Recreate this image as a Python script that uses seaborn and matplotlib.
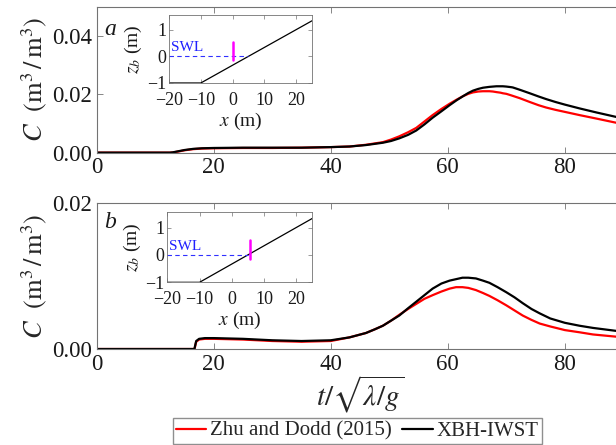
import numpy as np
import pandas as pd
import matplotlib
matplotlib.use("Agg")
import matplotlib.pyplot as plt
import seaborn as sns

# Sediment concentration time series, case a
t_a = [0, 12.5, 13.0, 14.0, 15.0, 16.5, 18.0, 20.0, 25.0, 30.0, 35.0, 40.0,
       43.2, 46.0, 48.9, 50.3, 51.7, 53.2, 54.6, 56.0, 57.4, 58.9, 60.3, 61.5,
       62.6, 63.5, 64.3, 65.2, 66.0, 67.1, 67.7, 68.3, 69.0, 69.4, 70.0, 70.8,
       71.1, 72.3, 74.0, 75.5, 76.8, 78.4, 80.0, 82.5, 85.4, 88.7, 90.0]
zhu_a = [0, 0, 0.00005, 0.0004, 0.0008, 0.0012, 0.0014, 0.0015, 0.0016, 0.0016,
         0.0017, 0.0019, 0.0021, 0.0027, 0.0036, 0.0045, 0.0056, 0.0070, 0.0085,
         0.0107, 0.0129, 0.0150, 0.0168, 0.0182, 0.0194, 0.0202, 0.0207, 0.0210,
         0.0211, 0.0211, 0.0210, 0.0208, 0.0206, 0.0204, 0.0202, 0.0197, 0.0195,
         0.0187, 0.0174, 0.0163, 0.0155, 0.0147, 0.0140, 0.0129, 0.0117, 0.0103,
         0.0099]
xbh_a = [0, 0, 0.0001, 0.0005, 0.0009, 0.0013, 0.0015, 0.0016, 0.0017, 0.0017,
         0.0017, 0.0019, 0.0021, 0.0026, 0.0034, 0.0040, 0.0049, 0.0061, 0.0076,
         0.0097, 0.0120, 0.0142, 0.0163, 0.0180, 0.0194, 0.0205, 0.0213, 0.0219,
         0.0223, 0.0226, 0.0227, 0.0228, 0.0228, 0.0228, 0.0227, 0.0225, 0.0224,
         0.0216, 0.0204, 0.0193, 0.0184, 0.0174, 0.0165, 0.0152, 0.0138, 0.0123,
         0.0118]

# Sediment concentration time series, case b
t_b = [0, 16.7, 16.8, 17.0, 17.5, 18.5, 20.0, 25.0, 30.0, 35.0, 40.0, 43.2,
       44.6, 46.0, 47.5, 48.9, 50.3, 51.7, 53.2, 54.6, 56.0, 57.4, 58.9, 60.3,
       61.4, 62.5, 63.5, 64.8, 66.0, 67.1, 68.5, 70.0, 71.4, 72.8, 74.3, 75.7,
       77.5, 80.0, 82.5, 84.8, 88.7, 90.0]
zhu_b = [0, 0, 0.0003, 0.0010, 0.0013, 0.0014, 0.0014, 0.0013, 0.0011, 0.0010,
         0.0011, 0.0016, 0.0019, 0.0022, 0.0027, 0.0032, 0.0039, 0.0047, 0.0055,
         0.0062, 0.0069, 0.0074, 0.0079, 0.0083, 0.0085, 0.0085, 0.0084, 0.0081,
         0.0077, 0.0073, 0.0067, 0.0060, 0.0053, 0.0046, 0.0040, 0.0035, 0.0031,
         0.0026, 0.0023, 0.0020, 0.0017, 0.0016]
xbh_b = [0, 0, 0.0004, 0.0011, 0.0014, 0.0015, 0.0015, 0.0014, 0.0012, 0.0011,
         0.0012, 0.0016, 0.0019, 0.0022, 0.0027, 0.0032, 0.0039, 0.0046, 0.0056,
         0.0065, 0.0074, 0.0083, 0.0090, 0.0094, 0.0096, 0.0098, 0.0098, 0.0097,
         0.0094, 0.0091, 0.0085, 0.0078, 0.0071, 0.0063, 0.0055, 0.0049, 0.0042,
         0.0036, 0.0032, 0.0029, 0.0025, 0.0024]

# Beach profile shown in the insets
bed_x = [-20, -10, 25]
bed_z = [-1.0, -1.0, 1.333]
swl_x = [-20, 5]
swl_z = [0, 0]
probe_x = {"a": 0.0, "b": 5.5}
probe_z = [-0.15, 0.55]

sns.set_style("ticks")
plt.rcParams["font.family"] = ["Liberation Serif", "DejaVu Serif"]
plt.rcParams["mathtext.fontset"] = "stix"
plt.rcParams["xtick.direction"] = "in"
plt.rcParams["ytick.direction"] = "in"
plt.rcParams["axes.edgecolor"] = "0.45"
plt.rcParams["axes.linewidth"] = 0.8
plt.rcParams["xtick.color"] = "0.45"
plt.rcParams["ytick.color"] = "0.45"
plt.rcParams["xtick.labelcolor"] = "0.1"
plt.rcParams["ytick.labelcolor"] = "0.1"

fig = plt.figure(figsize=(6.16, 4.45), dpi=100)

main_pos = {"a": [0.157, 0.657, 0.855, 0.327],
            "b": [0.157, 0.2157, 0.855, 0.327]}
inset_pos = {"a": [0.2744, 0.8135, 0.2321, 0.1528],
             "b": [0.2716, 0.3656, 0.2355, 0.157]}
series = {"a": (t_a, zhu_a, xbh_a), "b": (t_b, zhu_b, xbh_b)}
ylims = {"a": (0, 0.05), "b": (0, 0.02)}
yticks = {"a": [0, 0.02, 0.04], "b": [0, 0.02]}
label_y = {"a": 0.0424, "b": 0.0174}

for key in ["a", "b"]:
    ax = fig.add_axes(main_pos[key])
    t, zhu, xbh = series[key]
    df = pd.DataFrame({"t": t, "zhu": zhu, "xbh": xbh})
    sns.lineplot(data=df, x="t", y="zhu", ax=ax, color="#ff0000", lw=1.6,
                 label="Zhu and Dodd (2015)", legend=False)
    sns.lineplot(data=df, x="t", y="xbh", ax=ax, color="black", lw=1.6,
                 label="XBH-IWST", legend=False)
    ax.set_xlim(0, 90)
    ax.set_ylim(*ylims[key])
    ax.set_xticks([0, 20, 40, 60, 80])
    ax.set_yticks(yticks[key])
    ax.yaxis.set_major_formatter(matplotlib.ticker.FormatStrFormatter("%.2f"))
    ax.tick_params(labelsize=16.5, top=True, right=True, length=4, width=0.6)
    ax.set_ylabel(r"$C\ \ \left(\mathrm{m}^{3}\,/\,\mathrm{m}^{3}\right)$",
                  fontsize=19, labelpad=2)
    ax.set_xlabel("")
    ax.text(2.3, label_y[key], key, fontsize=17, style="italic",
            ha="center", va="center", color="0.1")
    if key == "b":
        ax.set_xlabel(r"$t/\sqrt{\lambda/g}$", fontsize=21, labelpad=-1)
        handles, labels = ax.get_legend_handles_labels()
        fig.legend(handles, labels, loc="lower center",
                   bbox_to_anchor=(0.58, 0.0), ncol=2, fontsize=15,
                   frameon=True, fancybox=False, edgecolor="0.45",
                   handlelength=1.45, handletextpad=0.2, columnspacing=0.5,
                   borderpad=0.15, borderaxespad=0.05)

    ins = fig.add_axes(inset_pos[key])
    sns.lineplot(x=bed_x, y=bed_z, ax=ins, color="black", lw=0.9)
    sns.lineplot(x=swl_x, y=swl_z, ax=ins, color="#3030ff", lw=0.8,
                 linestyle=(0, (4, 3)))
    sns.lineplot(x=[probe_x[key]] * 2, y=probe_z, ax=ins, color="#ff00ff",
                 lw=1.8, estimator=None, sort=False)
    ins.text(-19.5, 0.08, "SWL", color="#2020ff", fontsize=11,
             ha="left", va="bottom")
    ins.set_xlim(-20, 25)
    ins.set_ylim(-1, 1.55)
    ins.set_xticks([-20, -10, 0, 10, 20])
    ins.set_yticks([-1, 0, 1])
    ins.tick_params(labelsize=13, top=True, right=True, length=3, width=0.5,
                    pad=2)
    ins.tick_params(axis="x", pad=6.5)
    ins.set_xlabel(r"$x$ (m)", fontsize=14, labelpad=1, color="0.1")
    ins.set_ylabel(r"$z_b$ (m)", fontsize=14, labelpad=2, color="0.1")
    for s in ins.spines.values():
        s.set_linewidth(0.6)

fig.savefig("out.png", dpi=100)
